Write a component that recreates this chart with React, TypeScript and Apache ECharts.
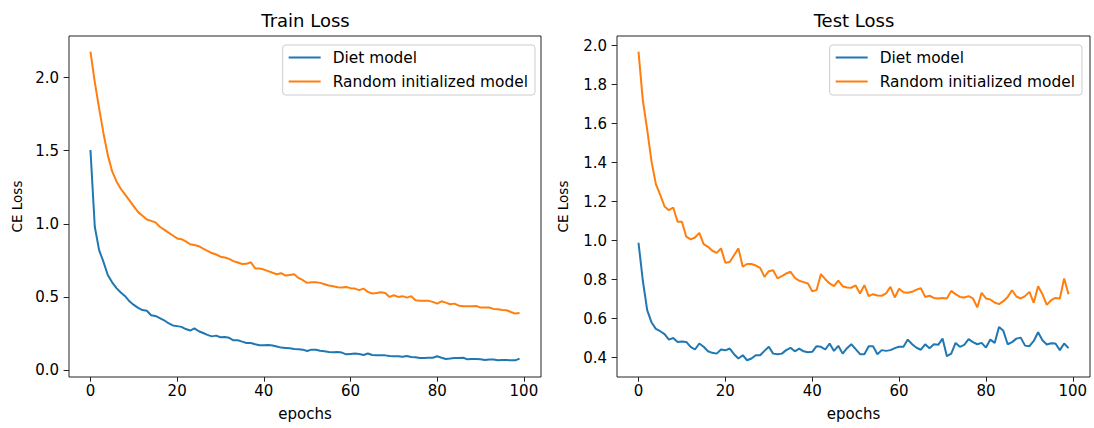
import React, { useEffect, useRef } from "react";
import * as echarts from "echarts";

const epochs: number[] = Array.from({ length: 100 }, (_, i) => i);

const trainDiet: number[] = [
  1.505, 0.98, 0.82, 0.74, 0.65, 0.6, 0.56, 0.53, 0.505, 0.47,
  0.445, 0.425, 0.41, 0.405, 0.375, 0.37, 0.355, 0.34, 0.32, 0.305,
  0.3, 0.295, 0.28, 0.27, 0.285, 0.265, 0.253, 0.24, 0.23, 0.235,
  0.224, 0.226, 0.22, 0.203, 0.203, 0.194, 0.185, 0.185, 0.176, 0.169,
  0.169, 0.171, 0.167, 0.16, 0.153, 0.151, 0.148, 0.144, 0.142, 0.139,
  0.13, 0.139, 0.139, 0.132, 0.128, 0.123, 0.121, 0.123, 0.119, 0.107,
  0.11, 0.112, 0.11, 0.103, 0.113, 0.103, 0.1, 0.1, 0.1, 0.096,
  0.094, 0.094, 0.091, 0.096, 0.089, 0.087, 0.082, 0.082, 0.084, 0.084,
  0.094, 0.084, 0.075, 0.078, 0.082, 0.082, 0.084, 0.073, 0.075, 0.075,
  0.073, 0.068, 0.071, 0.071, 0.066, 0.068, 0.068, 0.066, 0.066, 0.078,
];

const trainRandom: number[] = [
  2.178, 1.97, 1.79, 1.62, 1.47, 1.36, 1.29, 1.24, 1.2, 1.16,
  1.12, 1.08, 1.055, 1.03, 1.02, 1.01, 0.98, 0.96, 0.94, 0.92,
  0.9, 0.895, 0.88, 0.86, 0.855, 0.847, 0.83, 0.815, 0.8, 0.79,
  0.775, 0.77, 0.76, 0.745, 0.735, 0.725, 0.726, 0.737, 0.695, 0.695,
  0.687, 0.676, 0.665, 0.655, 0.662, 0.646, 0.65, 0.655, 0.63, 0.614,
  0.596, 0.6, 0.6, 0.596, 0.587, 0.578, 0.573, 0.566, 0.564, 0.568,
  0.56, 0.557, 0.546, 0.557, 0.534, 0.523, 0.527, 0.532, 0.527, 0.5,
  0.511, 0.5, 0.505, 0.495, 0.505, 0.477, 0.473, 0.473, 0.473, 0.466,
  0.454, 0.47, 0.461, 0.45, 0.454, 0.44, 0.436, 0.436, 0.436, 0.438,
  0.427, 0.427, 0.427, 0.418, 0.416, 0.41, 0.409, 0.397, 0.386, 0.39,
];

const testDiet: number[] = [
  0.989, 0.794, 0.643, 0.58, 0.547, 0.535, 0.52, 0.492, 0.5, 0.48,
  0.482, 0.48, 0.455, 0.441, 0.472, 0.455, 0.432, 0.424, 0.42, 0.441,
  0.437, 0.446, 0.417, 0.395, 0.412, 0.386, 0.395, 0.412, 0.412, 0.434,
  0.455, 0.42, 0.417, 0.42, 0.438, 0.45, 0.432, 0.446, 0.432, 0.427,
  0.429, 0.458, 0.455, 0.441, 0.472, 0.434, 0.46, 0.42, 0.448, 0.468,
  0.443, 0.417, 0.417, 0.458, 0.458, 0.417, 0.438, 0.434, 0.438, 0.448,
  0.455, 0.455, 0.492, 0.468, 0.45, 0.44, 0.468, 0.448, 0.468, 0.465,
  0.497, 0.407, 0.42, 0.475, 0.455, 0.465, 0.494, 0.479, 0.468, 0.475,
  0.451, 0.492, 0.475, 0.557, 0.537, 0.468, 0.479, 0.497, 0.502, 0.461,
  0.458, 0.485, 0.53, 0.489, 0.467, 0.473, 0.472, 0.438, 0.472, 0.448,
];

const testRandom: number[] = [
  1.97, 1.72, 1.57, 1.405, 1.29, 1.235, 1.175, 1.156, 1.17, 1.097,
  1.097, 1.02, 1.006, 1.016, 1.04, 0.982, 0.968, 0.948, 0.937, 0.96,
  0.886, 0.89, 0.925, 0.96, 0.866, 0.88, 0.88, 0.872, 0.86, 0.814,
  0.843, 0.848, 0.806, 0.818, 0.831, 0.84, 0.809, 0.794, 0.787, 0.78,
  0.74, 0.746, 0.828, 0.802, 0.78, 0.766, 0.794, 0.766, 0.759, 0.758,
  0.77, 0.729, 0.771, 0.715, 0.725, 0.718, 0.717, 0.729, 0.763, 0.708,
  0.753, 0.735, 0.732, 0.737, 0.748, 0.756, 0.711, 0.717, 0.706, 0.703,
  0.705, 0.703, 0.742, 0.725, 0.711, 0.708, 0.715, 0.703, 0.657, 0.732,
  0.703, 0.698, 0.682, 0.674, 0.689, 0.711, 0.745, 0.713, 0.703, 0.715,
  0.737, 0.681, 0.766, 0.725, 0.67, 0.694, 0.706, 0.703, 0.806, 0.725,
];

const seriesNames = ["Diet model", "Random initialized model"];
const titles = ["Train Loss", "Test Loss"];
const xTicks = [0, 20, 40, 60, 80, 100];
const yTicksTrain = [0, 0.5, 1.0, 1.5, 2.0];
const yTicksTest = [0.4, 0.6, 0.8, 1.0, 1.2, 1.4, 1.6, 1.8, 2.0];
const xLabel = "epochs";
const yLabel = "CE Loss";

const FONT = "DejaVu Sans";
const BLUE = "#1f77b4";
const ORANGE = "#ff7f0e";
const AX = "#222222";

function pairs(vals: number[]) {
  return epochs.map((e, i) => [e, vals[i]]);
}

function xAxisFor(gridIndex: number) {
  return {
    type: "value",
    gridIndex,
    min: -4.95,
    max: 103.95,
    axisLine: { show: false, onZero: false },
    splitLine: { show: false },
    axisTick: { show: true, length: 4.7, lineStyle: { color: AX, width: 1 }, customValues: xTicks },
    axisLabel: {
      margin: 6,
      color: "#000",
      fontSize: 15,
      fontFamily: FONT,
      customValues: xTicks,
      formatter: (v: number) => String(Math.round(v)),
    },
    name: xLabel,
    nameLocation: "middle",
    nameGap: 29,
    nameTextStyle: { color: "#000", fontSize: 15, fontFamily: FONT },
  };
}

function yAxisFor(gridIndex: number, min: number, max: number, ticks: number[], nameGap: number) {
  return {
    type: "value",
    gridIndex,
    min,
    max,
    axisLine: { show: false, onZero: false },
    splitLine: { show: false },
    axisTick: { show: true, length: 5.4, lineStyle: { color: AX, width: 1 }, customValues: ticks },
    axisLabel: {
      margin: 10,
      color: "#000",
      fontSize: 15,
      fontFamily: FONT,
      customValues: ticks,
      formatter: (v: number) => v.toFixed(1),
    },
    name: yLabel,
    nameLocation: "middle",
    nameGap,
    nameRotate: 90,
    nameTextStyle: { color: "#000", fontSize: 13.5, fontFamily: FONT },
  };
}

function lineSeries(name: string, color: string, vals: number[], idx: number) {
  return {
    type: "line",
    name,
    xAxisIndex: idx,
    yAxisIndex: idx,
    data: pairs(vals),
    symbol: "none",
    showSymbol: false,
    lineStyle: { color, width: 2 },
    itemStyle: { color },
    z: 3,
  };
}

function legendFor(right: number) {
  return {
    orient: "vertical",
    right,
    top: 45,
    align: "left",
    data: seriesNames.map((n) => ({ name: n, icon: "rect" })),
    itemWidth: 32,
    itemHeight: 2,
    itemGap: 7,
    padding: [4, 7, 5, 6],
    borderColor: "#cccccc",
    borderWidth: 1,
    borderRadius: 3,
    backgroundColor: "rgba(255,255,255,0.8)",
    textStyle: { color: "#000", fontSize: 15.4, fontFamily: FONT, lineHeight: 17, padding: [0, 0, 0, 7] },
  };
}

export default function App() {
  const ref = useRef<HTMLDivElement>(null);
  useEffect(() => {
    if (!ref.current) return;
    const chart = echarts.init(ref.current, null, { renderer: "svg" });
    const option: any = {
      animation: false,
      backgroundColor: "#ffffff",
      textStyle: { fontFamily: FONT },
      title: [
        {
          text: titles[0],
          left: 305.5,
          top: 11,
          textAlign: "center",
          padding: 0,
          textStyle: { fontSize: 18, fontWeight: "normal", color: "#000", fontFamily: FONT },
        },
        {
          text: titles[1],
          left: 854,
          top: 11,
          textAlign: "center",
          padding: 0,
          textStyle: { fontSize: 18, fontWeight: "normal", color: "#000", fontFamily: FONT },
        },
      ],
      grid: [
        { left: 69, top: 36, width: 472, height: 341, show: true, borderColor: AX, borderWidth: 1, backgroundColor: "transparent", containLabel: false },
        { left: 617, top: 36, width: 473, height: 341, show: true, borderColor: AX, borderWidth: 1, backgroundColor: "transparent", containLabel: false },
      ],
      xAxis: [xAxisFor(0), xAxisFor(1)],
      yAxis: [
        yAxisFor(0, -0.048, 2.285, yTicksTrain, 45),
        yAxisFor(1, 0.3, 2.05, yTicksTest, 47),
      ],
      legend: [legendFor(559), legendFor(12)],
      series: [
        lineSeries(seriesNames[0], BLUE, trainDiet, 0),
        lineSeries(seriesNames[1], ORANGE, trainRandom, 0),
        lineSeries(seriesNames[0], BLUE, testDiet, 1),
        lineSeries(seriesNames[1], ORANGE, testRandom, 1),
      ],
    };
    chart.setOption(option);
    return () => chart.dispose();
  }, []);
  return (
    <div
      ref={ref}
      style={{ position: "absolute", left: 0, top: 0, width: 1094, height: 428 }}
    />
  );
}
